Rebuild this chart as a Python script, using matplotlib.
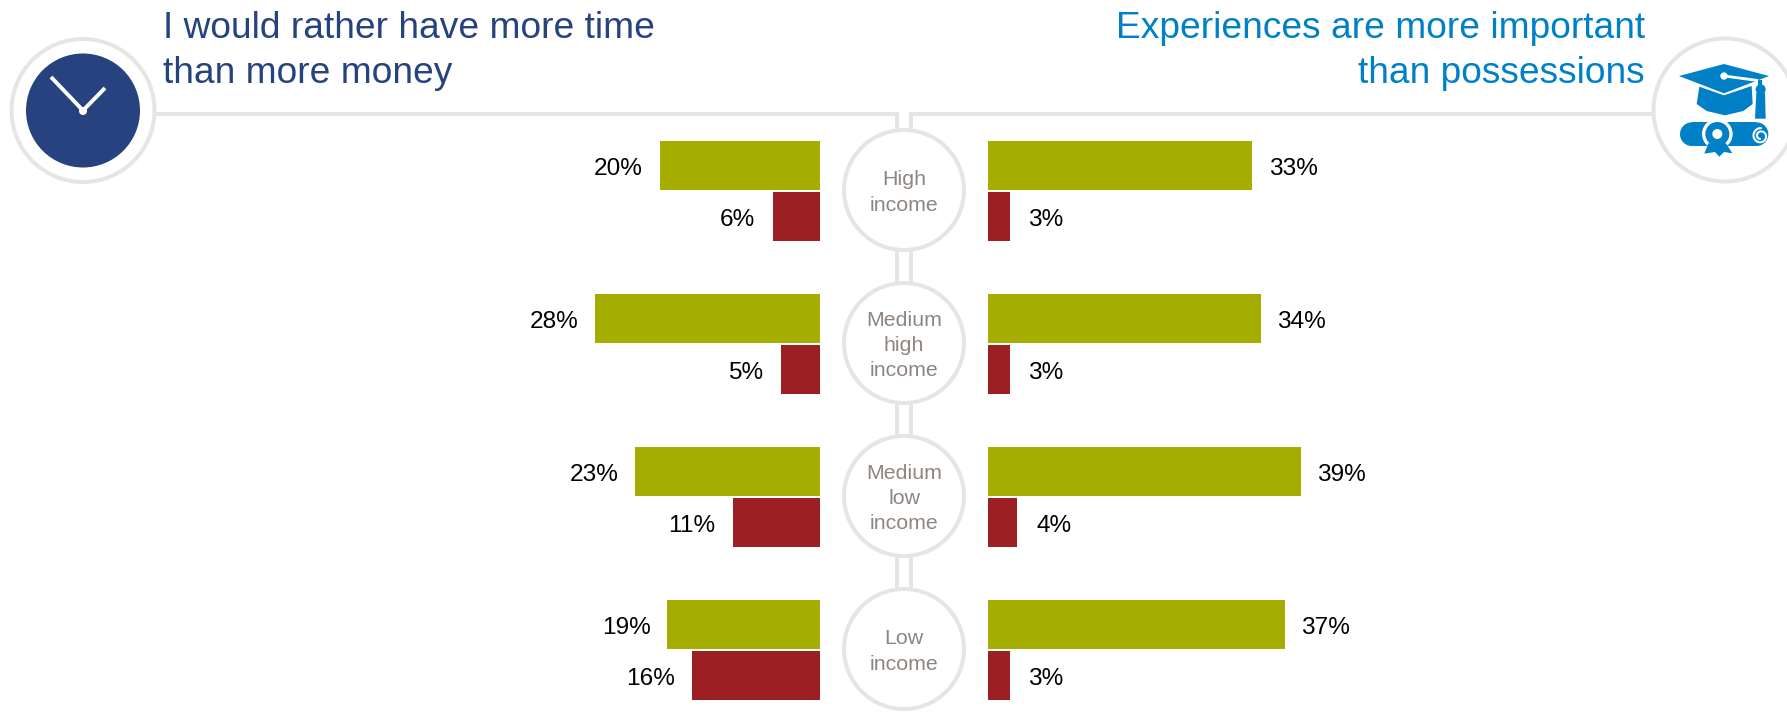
import matplotlib
matplotlib.use("Agg")
import matplotlib.pyplot as plt
from matplotlib.patches import Circle, Polygon, Rectangle
import numpy as np

plt.rcParams['font.family'] = ['Liberation Sans', 'DejaVu Sans']

categories = ['High\nincome', 'Medium\nhigh\nincome', 'Medium\nlow\nincome', 'Low\nincome']
# bar lengths; the printed labels are these values rounded
time_green = [19.9, 28, 23, 19]
time_red = [5.9, 4.9, 10.8, 15.9]
exp_green = [33, 34, 39, 37]
exp_red = [2.8, 2.8, 3.7, 2.8]
title_left = ['I would rather have more time', 'than more money']
title_right = ['Experiences are more important', 'than possessions']

W, H = 1787, 713
GREEN, RED = '#A4AD00', '#9C1F24'
RING = '#E6E5E3'
NAVY, BLUE = '#26427F', '#0080C6'
GREY = '#8E857E'
PX_PER_PCT = 8.03
ROW = 153.0
Y0 = 190.0
BAR_Y0 = 190.6

fig = plt.figure(figsize=(W / 100, H / 100), dpi=100, facecolor='white')

deco = fig.add_axes([0, 0, 1, 1])
deco.set_xlim(0, W)
deco.set_ylim(H, 0)
deco.axis('off')

lw = 4 * 0.72
cx = 904
centres = [Y0 + ROW * i for i in range(len(categories))]
for x in (897, 911):
    deco.plot([x, x], [114, centres[-1]], color=RING, lw=lw, zorder=1, solid_joinstyle='miter')
deco.plot([83, 897, 897], [114, 114, 125], color=RING, lw=lw, zorder=1, solid_joinstyle='miter')
deco.plot([911, 911, 1725], [125, 114, 114], color=RING, lw=lw, zorder=1, solid_joinstyle='miter')

for cy, label in zip(centres, categories):
    deco.add_patch(Circle((cx, cy), 60, fc='white', ec=RING, lw=lw, zorder=2))
    deco.text(cx, cy + 2.5, label, ha='center', va='center', color=GREY, fontsize=15.4,
              linespacing=1.43, zorder=3)

# clock
deco.add_patch(Circle((83, 110.5), 71.5, fc='white', ec=RING, lw=lw, zorder=2))
deco.add_patch(Circle((83, 110.5), 57, fc=NAVY, ec='none', zorder=3))
deco.plot([51, 83, 105], [77, 110.5, 88], color='white', lw=2.8, zorder=4, solid_capstyle='butt')
deco.add_patch(Circle((83, 111), 4, fc='white', ec='none', zorder=4))

# cap & scroll icon
deco.add_patch(Circle((1725, 110), 71.5, fc='white', ec=RING, lw=lw, zorder=2))


def P(zx, zy):
    return (1600 + zx / 3, 30 + zy / 3)


def poly(pts, color=BLUE, z=3):
    deco.add_patch(Polygon([P(*p) for p in pts], closed=True, fc=color, ec='none', zorder=z))


def disc(zx, zy, r, color=BLUE, z=3):
    deco.add_patch(Circle(P(zx, zy), r / 3, fc=color, ec='none', zorder=z))


poly([(298, 170), (372, 196), (455, 168), (458, 222), (430, 243), (375, 256), (320, 243), (290, 222)])
poly([(237, 138), (372, 102), (507, 138), (372, 190)], z=4)
deco.plot(*zip(P(372, 138), P(470, 151)), color='white', lw=2.0, zorder=5)
disc(372, 138, 11, 'white', 5)
poly([(474, 150), (486, 150), (486, 170), (474, 170)], z=4)
disc(482, 178, 15)
poly([(469, 188), (495, 188), (497, 266), (465, 266)])
x0, y0 = P(240, 277)
x1, y1 = P(505, 348)
rad = (y1 - y0) / 2
deco.add_patch(Rectangle((x0 + rad, y0), x1 - x0 - 2 * rad, y1 - y0, fc=BLUE, ec='none', zorder=3))
deco.add_patch(Circle((x0 + rad, (y0 + y1) / 2), rad, fc=BLUE, ec='none', zorder=3))
deco.add_patch(Circle((x1 - rad, (y0 + y1) / 2), rad, fc=BLUE, ec='none', zorder=3))
# white spiral at the end of the scroll
th = np.linspace(0.5 * np.pi, 3.4 * np.pi, 80)
rr = 24 - 15 * (th - th[0]) / (th[-1] - th[0])
sx = 1600 + (482 + rr * np.cos(th)) / 3
sy = 30 + (318 - rr * np.sin(th)) / 3
deco.plot(sx, sy, color='white', lw=1.5, zorder=4)
disc(352, 312, 46, 'white', 4)
poly([(325, 340), (378, 340), (397, 370), (372, 366), (358, 380), (345, 366), (313, 371)], BLUE, 5)
disc(352, 312, 36, BLUE, 6)
disc(352, 312, 15, 'white', 7)

# titles
for txt, base in zip(title_left, (38, 83)):
    deco.text(163, base, txt, ha='left', va='baseline', color=NAVY, fontsize=26.72)
for txt, base in zip(title_right, (38, 83)):
    deco.text(1645, base, txt, ha='right', va='baseline', color=BLUE, fontsize=26.72)

# bars: one axes per side, in percent
y = np.arange(len(categories))
ylim = ((H - BAR_Y0) / ROW, -BAR_Y0 / ROW)
bar_h = 49 / ROW
off = 25.5 / ROW


def side(left_px, right_px, xlim, green, red, sign):
    ax = fig.add_axes([left_px / W, 0, (right_px - left_px) / W, 1])
    ax.patch.set_alpha(0)
    ax.set_xlim(*xlim)
    ax.set_ylim(*ylim)
    ax.axis('off')
    ax.barh(y - off, green, height=bar_h, color=GREEN)
    ax.barh(y + off, red, height=bar_h, color=RED)
    for yy, vals in ((y - off, green), (y + off, red)):
        for a, b in zip(yy, vals):
            ax.annotate(f'{b:.0f}%', (round(b), a), xytext=(sign * 16.5, -1.5),
                        textcoords='offset pixels',
                        ha='left' if sign > 0 else 'right', va='center_baseline',
                        fontsize=17.6, color='black')
    return ax


side(0, 820, (820 / PX_PER_PCT, 0), time_green, time_red, -1)
side(987.5, W, (0, (W - 987.5) / PX_PER_PCT), exp_green, exp_red, 1)

fig.savefig('out.png', dpi=100, facecolor='white')
